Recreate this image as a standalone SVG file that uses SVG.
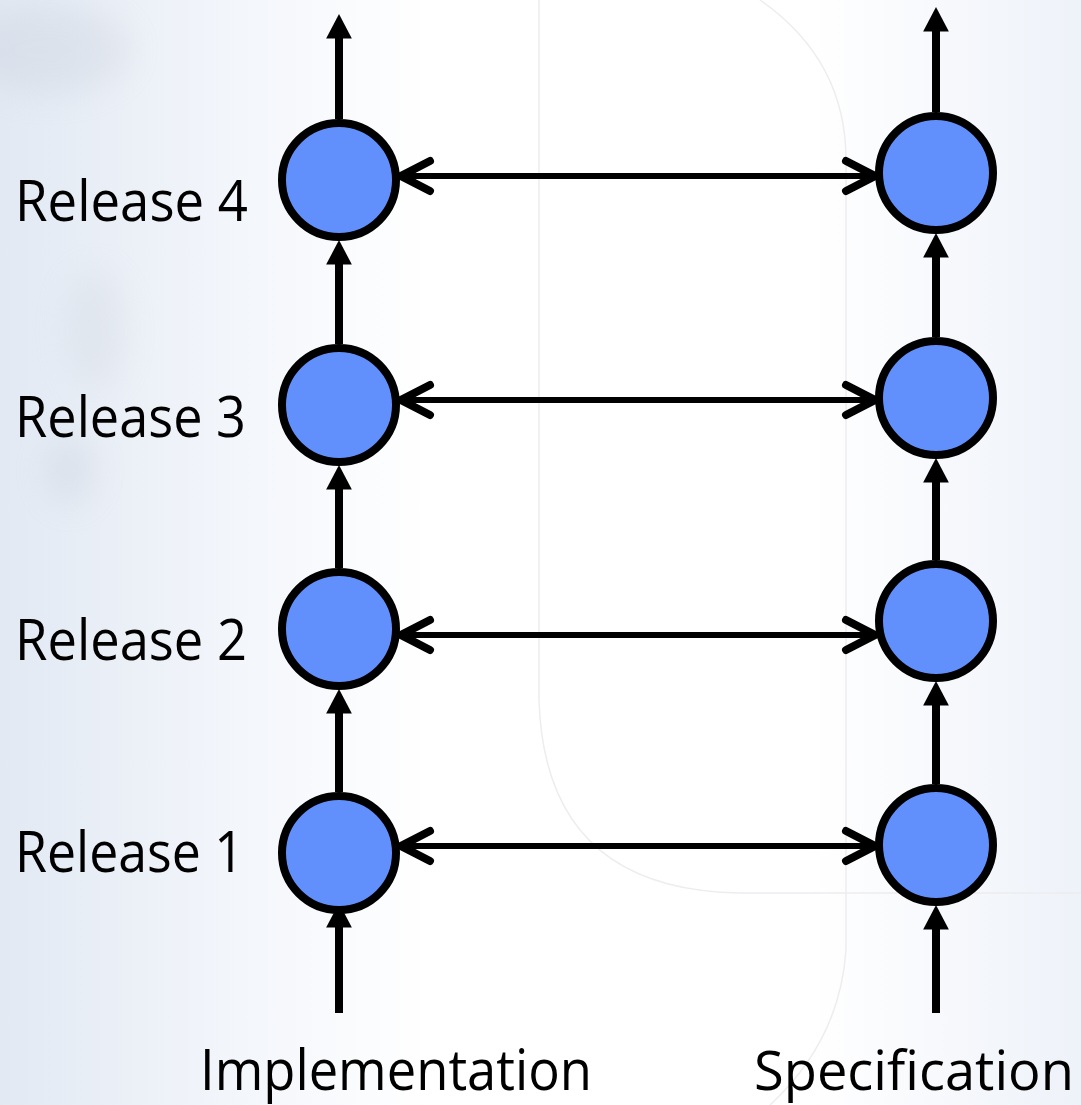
<svg xmlns="http://www.w3.org/2000/svg" width="1081" height="1105" viewBox="0 0 1081 1105">
  <style>
    .node circle { fill: #6190fd; stroke: #000; stroke-width: 8; }
    .label { font-family: "Open Sans", "Noto Sans", "DejaVu Sans", sans-serif; font-size: 57px; fill: #000; }
    .vline { stroke: #000; stroke-width: 8; fill: none; marker-end: url(#tri); }
    .hline { stroke: #000; stroke-width: 6; fill: none; marker-start: url(#chevL); marker-end: url(#chevR); }
    .faint { fill: none; stroke: #ededf0; stroke-width: 1.5; }
  </style>
  <defs>
    <linearGradient id="bg" x1="0" y1="0" x2="1" y2="0">
      <stop offset="0" stop-color="#e2e9f3"/>
      <stop offset="0.22" stop-color="#f3f6fb"/>
      <stop offset="0.4" stop-color="#ffffff"/>
      <stop offset="0.75" stop-color="#ffffff"/>
      <stop offset="1" stop-color="#eef2f9"/>
    </linearGradient>
    <filter id="soft" x="-50%" y="-50%" width="200%" height="200%">
      <feGaussianBlur stdDeviation="16"/>
    </filter>
    <!-- filled triangle head for the vertical version lines; tip sits 15px past the line end -->
    <marker id="tri" markerUnits="userSpaceOnUse" markerWidth="30" markerHeight="30" viewBox="-10 -14 28 28" refX="0" refY="0" orient="auto">
      <path d="M 15 0 L -8 -12 L -8 12 Z" fill="#000"/>
    </marker>
    <!-- open chevron heads for the horizontal links -->
    <marker id="chevR" markerUnits="userSpaceOnUse" markerWidth="44" markerHeight="44" viewBox="-38 -22 44 44" refX="0" refY="0" orient="0">
      <path d="M -29 -15 L 0 0 L -29 15" fill="none" stroke="#000" stroke-width="8" stroke-linecap="round" stroke-linejoin="miter"/>
    </marker>
    <marker id="chevL" markerUnits="userSpaceOnUse" markerWidth="44" markerHeight="44" viewBox="-6 -22 44 44" refX="0" refY="0" orient="0">
      <path d="M 29 -15 L 0 0 L 29 15" fill="none" stroke="#000" stroke-width="8" stroke-linecap="round" stroke-linejoin="miter"/>
    </marker>
  </defs>

  <!-- background -->
  <rect x="0" y="0" width="1081" height="1105" fill="url(#bg)"/>
  <g opacity="0.22" filter="url(#soft)">
    <ellipse cx="50" cy="50" rx="80" ry="45" fill="#b9c0cc"/>
    <ellipse cx="95" cy="330" rx="30" ry="60" fill="#c4cad4"/>
    <ellipse cx="70" cy="470" rx="25" ry="35" fill="#b5bcc8"/>
  </g>
  <g id="backdrop-lines">
    <path class="faint" d="M 539 0 L 539 700 Q 545 890 740 893 L 1081 893"/>
    <path class="faint" d="M 760 0 Q 846 60 846 160 L 846 950 Q 840 1040 770 1105"/>
  </g>

  <!-- connectors -->
  <g id="connectors">
    <!-- implementation column -->
    <line class="vline" x1="339" y1="1013" x2="339" y2="919"/>
    <line class="vline" x1="339" y1="792" x2="339" y2="705"/>
    <line class="vline" x1="339" y1="568" x2="339" y2="481"/>
    <line class="vline" x1="339" y1="344" x2="339" y2="256"/>
    <line class="vline" x1="339" y1="119" x2="339" y2="30"/>
    <!-- specification column -->
    <line class="vline" x1="936" y1="1013" x2="936" y2="921"/>
    <line class="vline" x1="936" y1="784" x2="936" y2="697"/>
    <line class="vline" x1="936" y1="560" x2="936" y2="474"/>
    <line class="vline" x1="936" y1="337" x2="936" y2="249"/>
    <line class="vline" x1="936" y1="112" x2="936" y2="23"/>
    <!-- release links -->
    <line class="hline" x1="401" y1="176" x2="875" y2="176"/>
    <line class="hline" x1="401" y1="400" x2="875" y2="400"/>
    <line class="hline" x1="401" y1="635" x2="875" y2="635"/>
    <line class="hline" x1="401" y1="846" x2="875" y2="846"/>
  </g>

  <!-- implementation releases -->
  <g id="impl-r4" class="node"><circle cx="339" cy="180" r="57"/></g>
  <g id="impl-r3" class="node"><circle cx="339" cy="405" r="57"/></g>
  <g id="impl-r2" class="node"><circle cx="339" cy="629" r="57"/></g>
  <g id="impl-r1" class="node"><circle cx="339" cy="853" r="57"/></g>

  <!-- specification releases -->
  <g id="spec-r4" class="node"><circle cx="936" cy="173" r="57"/></g>
  <g id="spec-r3" class="node"><circle cx="936" cy="398" r="57"/></g>
  <g id="spec-r2" class="node"><circle cx="936" cy="621" r="57"/></g>
  <g id="spec-r1" class="node"><circle cx="936" cy="845" r="57"/></g>

  <!-- labels -->
  <g id="labels">
    <text class="label" x="15" y="221" textLength="233" lengthAdjust="spacingAndGlyphs">Release 4</text>
    <text class="label" x="15" y="437" textLength="231" lengthAdjust="spacingAndGlyphs">Release 3</text>
    <text class="label" x="15" y="660" textLength="232" lengthAdjust="spacingAndGlyphs">Release 2</text>
    <text class="label" x="15" y="872" textLength="229" lengthAdjust="spacingAndGlyphs">Release 1</text>
    <text class="label" x="200" y="1090" textLength="392" lengthAdjust="spacingAndGlyphs">Implementation</text>
    <text class="label" x="754" y="1090" style="font-size:54px" textLength="320" lengthAdjust="spacingAndGlyphs">Specification</text>
  </g>
</svg>
